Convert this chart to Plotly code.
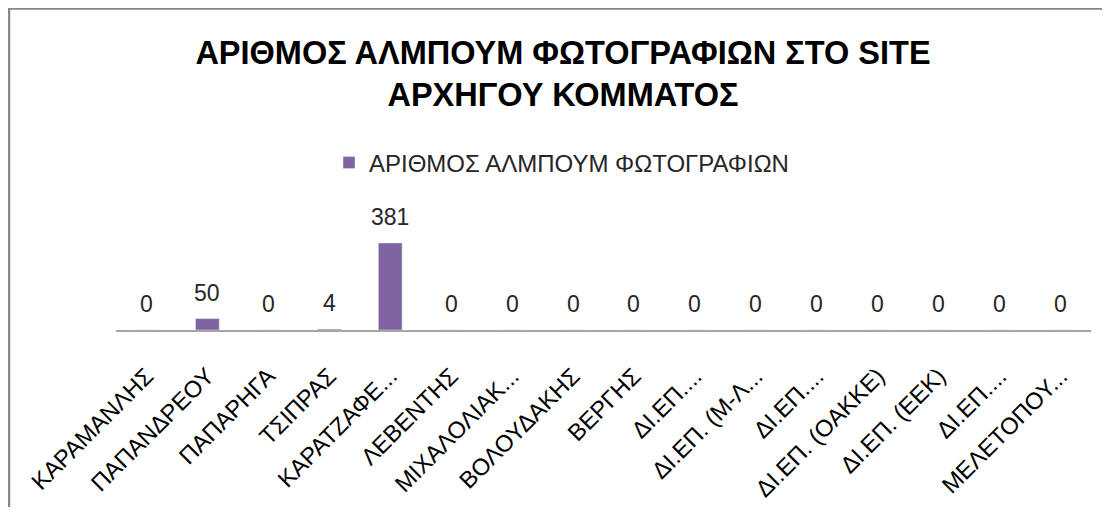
import plotly.graph_objects as go

categories = ["ΚΑΡΑΜΑΝΛΗΣ", "ΠΑΠΑΝΔΡΕΟΥ", "ΠΑΠΑΡΗΓΑ", "ΤΣΙΠΡΑΣ", "ΚΑΡΑΤΖΑΦΕ...",
              "ΛΕΒΕΝΤΗΣ", "ΜΙΧΑΛΟΛΙΑΚ...", "ΒΟΛΟΥΔΑΚΗΣ", "ΒΕΡΓΗΣ", "ΔΙ.ΕΠ....",
              "ΔΙ.ΕΠ. (Μ-Λ...", "ΔΙ.ΕΠ....", "ΔΙ.ΕΠ. (ΟΑΚΚΕ)", "ΔΙ.ΕΠ. (ΕΕΚ)", "ΔΙ.ΕΠ....",
              "ΜΕΛΕΤΟΠΟΥ..."]
values = [0, 50, 0, 4, 381, 0, 0, 0, 0, 0, 0, 0, 0, 0, 0, 0]
series_name = "ΑΡΙΘΜΟΣ ΑΛΜΠΟΥΜ ΦΩΤΟΓΡΑΦΙΩΝ"
title_text = "ΑΡΙΘΜΟΣ ΑΛΜΠΟΥΜ ΦΩΤΟΓΡΑΦΙΩΝ ΣΤΟ SITE<br>ΑΡΧΗΓΟΥ ΚΟΜΜΑΤΟΣ"

FONT = "Liberation Sans, Arial, sans-serif"
# page body has an 8px margin; figure sized to fill the window without scrollbars
W, H = 1094, 499
OFF = 8
xs = list(range(len(categories)))

fig = go.Figure()
fig.add_trace(go.Bar(x=xs, y=values, name=series_name, marker_color="#8064A2",
                     width=0.39, showlegend=True))

for xi, v in zip(xs, values):
    fig.add_annotation(x=xi, y=v, text=str(v), showarrow=False, yanchor="middle",
                       yshift=26, font=dict(family=FONT, size=23, color="#262626"))

# chart frame (only left and top edges are visible in the reference)
fig.add_shape(type="line", xref="paper", yref="paper",
              x0=1 / W, x1=1 / W, y0=0, y1=1,
              line=dict(color="#878787", width=2.5), layer="above")
fig.add_shape(type="line", xref="paper", yref="paper",
              x0=0, x1=1, y0=1 - 0.5 / H, y1=1 - 0.5 / H,
              line=dict(color="#878787", width=2.5), layer="above")

fig.update_layout(
    width=W, height=H,
    margin=dict(l=0, r=0, t=0, b=0),
    paper_bgcolor="white", plot_bgcolor="white",
    font=dict(family=FONT, color="#000000"),
    title=dict(text=title_text, x=(563 - OFF) / W, xanchor="center", xref="paper",
               y=1 - 55.5 / H, yanchor="top", yref="paper",
               font=dict(family=FONT, size=32.5, color="#000000", weight="bold")),
    legend=dict(orientation="h", x=321 / W, xanchor="left", y=(H - (163 - OFF)) / H, yanchor="middle",
                font=dict(family=FONT, size=24, color="#262626"), bgcolor="rgba(0,0,0,0)"),
    xaxis=dict(domain=[(116 - OFF) / W, (1091 - OFF) / W], range=[-0.5, len(categories) - 0.5],
               tickmode="array", tickvals=xs, ticktext=categories, tickangle=-45,
               showline=True, linecolor="#a6a6a6", linewidth=2, ticks="",
               ticklabelstandoff=21,
               showgrid=False, zeroline=False, automargin=False,
               tickfont=dict(family=FONT, size=23.5, color="#000000")),
    yaxis=dict(domain=[(H - (330 - OFF)) / H, (H - (227.2 - OFF)) / H], range=[0, 450],
               visible=False, showgrid=False, zeroline=False),
)

fig.write_html("out.html")
